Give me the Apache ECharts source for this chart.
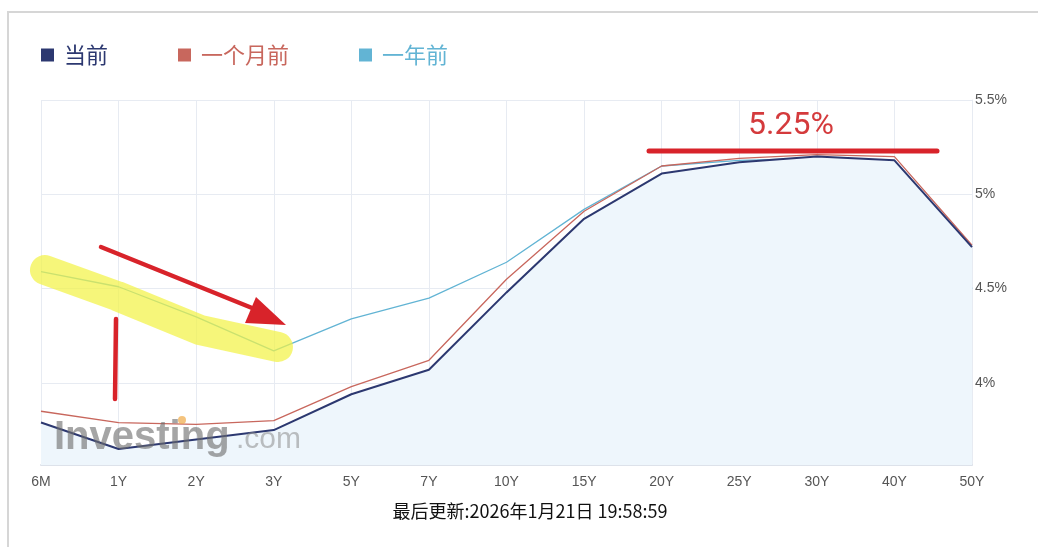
<!DOCTYPE html>
<html>
<head>
<meta charset="utf-8">
<script src="https://cdn.jsdelivr.net/npm/echarts@6/dist/echarts.min.js"></script>
<style>
  html, body { margin: 0; padding: 0; background: #fff; }
  #chart { width: 1038px; height: 547px; }
</style>
</head>
<body>
<div id="chart"></div>
<script>
var categories = ['6M', '1Y', '2Y', '3Y', '5Y', '7Y', '10Y', '15Y', '20Y', '25Y', '30Y', '40Y', '50Y']
var current = [3.79, 3.65, 3.70, 3.75, 3.94, 4.07, 4.48, 4.87, 5.11, 5.17, 5.20, 5.18, 4.72]
var monthAgo = [3.85, 3.79, 3.78, 3.80, 3.98, 4.12, 4.55, 4.91, 5.15, 5.19, 5.21, 5.20, 4.73]
var yearAgo = [4.59, 4.51, 4.35, 4.17, 4.34, 4.45, 4.64, 4.92, 5.15, 5.18, 5.19, 5.11, 4.50]
var seriesNames = ['当前', '一个月前', '一年前']
var footerText = '最后更新:2026年1月21日 19:58:59'
var peakLabel = '5.25%'

var NAVY = '#2c3870',
	RED = '#c8675d',
	BLUE = '#62b4d4',
	GRID = '#e7ebf2'

var chart = echarts.init(document.getElementById('chart'))

var option = {
	backgroundColor: '#fff',
	animation: false,
	textStyle: { fontFamily: 'Liberation Sans, Arial, sans-serif' },
	legend: {
		left: 36,
		top: 39,
		itemWidth: 13,
		itemHeight: 13,
		itemGap: 70,
		icon: 'rect',
		textStyle: {
			fontSize: 22,
			fontFamily: 'Noto Sans CJK SC',
			padding: [0, 0, 0, 5]
		},
		data: [
			{ name: seriesNames[0], itemStyle: { color: NAVY }, textStyle: { color: NAVY } },
			{ name: seriesNames[1], itemStyle: { color: RED }, textStyle: { color: RED } },
			{ name: seriesNames[2], itemStyle: { color: BLUE }, textStyle: { color: BLUE } }
		]
	},
	grid: { left: 41, right: 66, top: 100, bottom: 82 },
	xAxis: {
		type: 'category',
		data: categories,
		boundaryGap: false,
		axisLine: { lineStyle: { color: '#dde2ea', width: 2 } },
		axisTick: { show: false },
		axisLabel: { color: '#555', fontSize: 14, margin: 10 },
		splitLine: { show: true, lineStyle: { color: GRID } }
	},
	yAxis: {
		type: 'value',
		position: 'right',
		min: 3.565,
		max: 5.5,
		splitNumber: 4,
		axisLine: { show: true, lineStyle: { color: GRID } },
		axisTick: { show: false },
		axisLabel: {
			color: '#555',
			fontSize: 14,
			margin: 3,
			showMinLabel: false,
			formatter: function (v) { return v + '%' }
		},
		splitLine: { lineStyle: { color: GRID } }
	},
	series: [
		{
			name: seriesNames[2],
			type: 'line',
			data: yearAgo,
			symbol: 'none',
			lineStyle: { color: BLUE, width: 1.3 },
			itemStyle: { color: BLUE },
			z: 2
		},
		{
			name: seriesNames[1],
			type: 'line',
			data: monthAgo,
			symbol: 'none',
			lineStyle: { color: RED, width: 1.3 },
			itemStyle: { color: RED },
			z: 3
		},
		{
			name: seriesNames[0],
			type: 'line',
			data: current,
			symbol: 'none',
			lineStyle: { color: NAVY, width: 2 },
			itemStyle: { color: NAVY },
			areaStyle: { color: '#eef6fc', opacity: 1, origin: 'start' },
			z: 4
		}
	],
	graphic: [
		// outer frame
		{ type: 'rect', shape: { x: 8, y: 12, width: 1100, height: 600 }, style: { fill: 'none', stroke: '#d6d6d6', lineWidth: 2 }, silent: true },
		// watermark
		{ type: 'text', x: 54, y: 418, z: 5, style: { text: 'Investing', font: 'bold 40px "Liberation Sans", Arial', fill: 'rgba(110,110,110,0.62)' } },
		{ type: 'text', x: 236, y: 425, z: 5, style: { text: '.com', font: '30px "Liberation Sans", Arial', fill: 'rgba(140,140,140,0.55)' } },
		{ type: 'circle', shape: { cx: 182, cy: 420, r: 4 }, z: 6, style: { fill: 'rgba(240,170,70,0.7)' } },
		// yellow highlight
		{ type: 'polyline', z: 20, shape: { points: [[45, 270], [117, 296], [200, 330], [278, 347]] }, style: { stroke: 'rgba(243,243,70,0.72)', lineWidth: 30, lineCap: 'round', lineJoin: 'round', fill: 'none' } },
		// arrow
		{ type: 'line', z: 21, shape: { x1: 101, y1: 247, x2: 262, y2: 312 }, style: { stroke: '#d8232a', lineWidth: 4.5, lineCap: 'round' } },
		{ type: 'polygon', z: 21, shape: { points: [[286, 325], [256, 297], [245, 323]] }, style: { fill: '#d8232a' } },
		// vertical tick
		{ type: 'line', z: 21, shape: { x1: 116, y1: 319, x2: 115, y2: 399 }, style: { stroke: '#d8232a', lineWidth: 4.5, lineCap: 'round' } },
		// peak line and label
		{ type: 'line', z: 21, shape: { x1: 649, y1: 151, x2: 937, y2: 151 }, style: { stroke: '#d8232a', lineWidth: 5, lineCap: 'round' } },
		{ type: 'text', z: 21, x: 791, y: 126, style: { text: peakLabel, font: '32px Roboto, "Liberation Sans"', fill: '#d43a3c', align: 'center', verticalAlign: 'middle' } },
		// footer
		{ type: 'text', x: 530, y: 511, style: { text: footerText, font: '18px "Noto Sans CJK SC"', fill: '#111', align: 'center', verticalAlign: 'middle' } }
	]
}

chart.setOption(option)
</script>
</body>
</html>
